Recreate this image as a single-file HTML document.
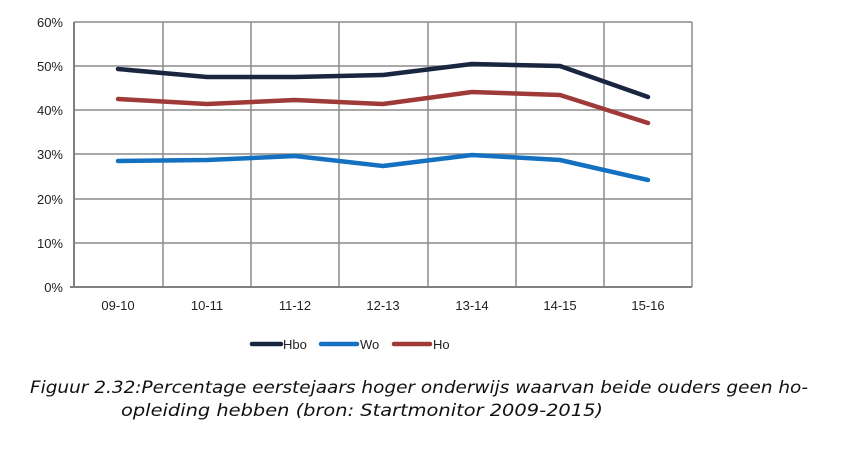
<!DOCTYPE html>
<html><head><meta charset="utf-8"><style>body{margin:0;background:#fff}svg{display:block}</style></head>
<body>
<svg width="868" height="450" xmlns="http://www.w3.org/2000/svg" font-family="'DejaVu Sans','Liberation Sans',sans-serif">
<rect width="868" height="450" fill="#fff"/>
<g stroke="#8c8c8c" stroke-width="1.5">
<line x1="74" y1="22" x2="692" y2="22"/>
<line x1="74" y1="66" x2="692" y2="66"/>
<line x1="74" y1="110" x2="692" y2="110"/>
<line x1="74" y1="154" x2="692" y2="154"/>
<line x1="74" y1="199" x2="692" y2="199"/>
<line x1="74" y1="243" x2="692" y2="243"/>
<line x1="163" y1="22" x2="163" y2="287"/>
<line x1="251" y1="22" x2="251" y2="287"/>
<line x1="339" y1="22" x2="339" y2="287"/>
<line x1="428" y1="22" x2="428" y2="287"/>
<line x1="516" y1="22" x2="516" y2="287"/>
<line x1="604" y1="22" x2="604" y2="287"/>
<line x1="692" y1="22" x2="692" y2="287"/>
</g>
<g stroke="#808080" stroke-width="2"><line x1="74" y1="22" x2="74" y2="288"/><line x1="70" y1="287" x2="692" y2="287"/></g>
<g font-size="13" fill="#222" text-anchor="end" font-family="'Liberation Sans',sans-serif">
<text x="63" y="27">60%</text><text x="63" y="71">50%</text><text x="63" y="115">40%</text><text x="63" y="159">30%</text><text x="63" y="204">20%</text><text x="63" y="248">10%</text><text x="63" y="292">0%</text>
</g>
<g font-size="13" fill="#222" text-anchor="middle" font-family="'Liberation Sans',sans-serif">
<text x="118" y="310">09-10</text><text x="207" y="310">10-11</text><text x="295" y="310">11-12</text><text x="383" y="310">12-13</text><text x="472" y="310">13-14</text><text x="560" y="310">14-15</text><text x="648" y="310">15-16</text>
</g>
<g fill="none" stroke-width="4.5" stroke-linecap="round" stroke-linejoin="round">
<polyline stroke="#1a2640" points="118,69 207,77 295,77 383,75 472,64 560,66 648,97"/>
<polyline stroke="#9e3a38" points="118,99 207,104 295,100 383,104 472,92 560,95 648,123"/>
<polyline stroke="#1470c0" points="118,161 207,160 295,156 383,166 472,155 560,160 648,180"/>
</g>
<g stroke-width="4.5" stroke-linecap="round">
<line x1="252" y1="344" x2="281" y2="344" stroke="#1a2640"/>
<line x1="321" y1="344" x2="357" y2="344" stroke="#1470c0"/>
<line x1="394" y1="344" x2="430" y2="344" stroke="#9e3a38"/>
</g>
<g font-size="13" fill="#222" font-family="'Liberation Sans',sans-serif">
<text x="283" y="349">Hbo</text><text x="360" y="349">Wo</text><text x="433" y="349">Ho</text>
</g>
<g font-size="17" font-style="italic" fill="#111">
<text x="30" y="393" textLength="778" lengthAdjust="spacingAndGlyphs">Figuur 2.32:Percentage eerstejaars hoger onderwijs waarvan beide ouders geen ho-</text>
<text x="121" y="416" textLength="482" lengthAdjust="spacingAndGlyphs">opleiding hebben (bron: Startmonitor 2009-2015)</text>
</g>
</svg>
</body></html>
